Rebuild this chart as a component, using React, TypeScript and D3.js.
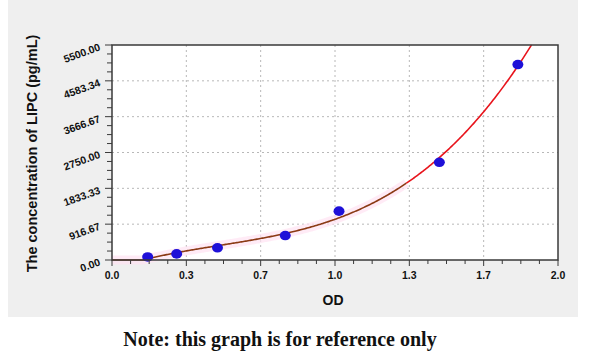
import React from "react";
import * as d3 from "d3";

const odValues = [0.16, 0.29, 0.473, 0.777, 1.018, 1.468, 1.82];
const concValues = [78.13, 156.25, 312.5, 625, 1250, 2500, 5000];
const yTickValues = [0, 916.67, 1833.33, 2750, 3666.67, 4583.34, 5500];
const xTickValues = [0, 1 / 3, 2 / 3, 1, 4 / 3, 5 / 3, 2];

const W = 600, H = 354;
const left = 112, right = 558, top = 45, bottom = 260;
const brownEnd = 1.32;

// cubic least squares fit of conc on OD
function fitCubic(xs: number[], ys: number[]) {
    const n = 4;
    const A = Array.from({ length: n }, () => new Array(n + 1).fill(0));
    xs.forEach((x, k) => {
        for (let i = 0; i < n; i++) {
            for (let j = 0; j < n; j++) A[i][j] += Math.pow(x, i + j);
            A[i][n] += ys[k] * Math.pow(x, i);
        }
    });
    for (let c = 0; c < n; c++) {
        let p = c;
        for (let r = c + 1; r < n; r++) if (Math.abs(A[r][c]) > Math.abs(A[p][c])) p = r;
        [A[c], A[p]] = [A[p], A[c]];
        for (let r = 0; r < n; r++) {
            if (r === c) continue;
            const f = A[r][c] / A[c][c];
            for (let j = c; j <= n; j++) A[r][j] -= f * A[c][j];
        }
    }
    const coef = A.map((row, i) => row[n] / row[i]);
    return (x: number) => coef.reduce((s, a, i) => s + a * Math.pow(x, i), 0);
}

const App = () => {
    const x = d3.scaleLinear().domain([0, 2]).range([left, right]);
    const y = d3.scaleLinear().domain([0, 5500]).range([bottom, top]);
    const f = fitCubic(odValues, concValues);

    const samples = d3.range(0, 2.0001, 0.005)
        .map(od => [od, Math.max(0, f(od))] as [number, number])
        .filter(d => d[1] <= 5500);
    const lastOd = samples[samples.length - 1][0];
    const line = d3.line<[number, number]>().x(d => x(d[0])).y(d => y(d[1]));
    const lower = samples.filter(d => d[0] <= brownEnd);
    const upper = samples.filter(d => d[0] >= brownEnd - 0.005);
    const topOd = d3.range(lastOd, lastOd + 0.01, 0.0005).find(od => f(od) >= 5500) || lastOd;
    upper.push([topOd, 5500]);

    const xMinor = d3.range(0, 2.0001, 2 / 24);
    const yMinor = d3.range(0, 5500.01, 5500 / 24);
    const fmtX = d3.format(".1f");
    const fmtY = d3.format(".2f");

    return (
        <svg width={W} height={H} style={{ position: "absolute", left: 0, top: 0 }}
            fontFamily="Liberation Sans, Arial, sans-serif">
            <rect x={0} y={0} width={W} height={H} fill="#ffffff" />
            <rect x={8} y={0} width={570} height={317} fill="#efefef" />
            <rect x={left} y={top} width={right - left} height={bottom - top} fill="#ffffff" />
            {/* grid */}
            {xTickValues.slice(1, -1).map((t, i) => (
                <line key={"gx" + i} x1={x(t)} x2={x(t)} y1={top} y2={bottom}
                    stroke="#b8b8b8" strokeDasharray="2,3" />
            ))}
            {yTickValues.slice(1, -1).map((t, i) => (
                <line key={"gy" + i} x1={left} x2={right} y1={y(t)} y2={y(t)}
                    stroke="#b8b8b8" strokeDasharray="2,3" />
            ))}
            {/* pink band */}
            <path d={line(lower) || ""} fill="none" stroke="#ffe3f2" strokeWidth={9} opacity={0.7} />
            <path d={line(lower) || ""} fill="none" stroke="#8b3a14" strokeWidth={1.6} />
            <path d={line(upper) || ""} fill="none" stroke="#e8141c" strokeWidth={1.6} />
            {/* points */}
            {odValues.map((od, i) => (
                <ellipse key={"p" + i} cx={x(od)} cy={y(concValues[i])} rx={5.5} ry={4.8} fill="#1e10d8" />
            ))}
            {/* frame */}
            <rect x={left} y={top} width={right - left} height={bottom - top} fill="none"
                stroke="#3a3a3a" strokeWidth={1.5} />
            {/* x ticks */}
            {xMinor.map((t, i) => (
                <line key={"xm" + i} x1={x(t)} x2={x(t)} y1={bottom} y2={bottom + (i % 4 === 0 ? 6 : 4)}
                    stroke="#3a3a3a" strokeWidth={1} />
            ))}
            {xTickValues.map((t, i) => (
                <text key={"xl" + i} x={x(t)} y={bottom + 19} textAnchor="middle"
                    fontSize={10.5} fontWeight="bold" fill="#111">{fmtX(t)}</text>
            ))}
            {/* y ticks */}
            {yMinor.map((t, i) => (
                <line key={"ym" + i} x1={left} x2={left - (i % 4 === 0 ? 7 : 5)} y1={y(t)} y2={y(t)}
                    stroke="#3a3a3a" strokeWidth={1} />
            ))}
            {yTickValues.map((t, i) => (
                <text key={"yl" + i} transform={`translate(${left - 11},${y(t) + 5}) rotate(-20)`}
                    textAnchor="end" fontSize={10.5} fontWeight="bold" fill="#111">{fmtY(t)}</text>
            ))}
            {/* axis titles */}
            <text x={(left + right) / 2 - 2} y={305} textAnchor="middle" fontSize={14}
                fontWeight="bold" fill="#111">OD</text>
            <text transform={`translate(37,${(top + bottom) / 2 + 1}) rotate(-90)`} textAnchor="middle"
                fontSize={14.5} fontWeight="bold" fill="#111">The concentration of LIPC (pg/mL)</text>
            {/* note */}
            <text x={280} y={346} textAnchor="middle" fontSize={20} fontWeight="bold"
                fontFamily="Liberation Serif, serif" fill="#111">Note: this graph is for reference only</text>
        </svg>
    );
};

export default App;
